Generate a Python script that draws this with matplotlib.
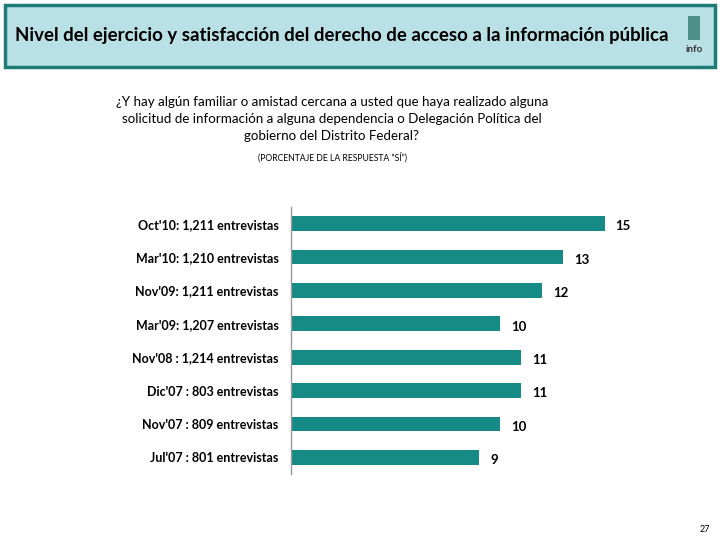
import matplotlib
matplotlib.use("Agg")
import matplotlib.pyplot as plt
from matplotlib.patches import Rectangle

categories = ["Oct'10: 1,211 entrevistas", "Mar'10: 1,210 entrevistas",
              "Nov'09: 1,211 entrevistas", "Mar'09: 1,207 entrevistas",
              "Nov'08 : 1,214 entrevistas", "Dic'07 : 803 entrevistas",
              "Nov'07 : 809 entrevistas", "Jul'07 : 801 entrevistas"]
values = [15, 13, 12, 10, 11, 11, 10, 9]

plt.rcParams['font.family'] = ['Lato', 'DejaVu Sans']
fig = plt.figure(figsize=(7.2, 5.4), dpi=100)

# header box
fig.patches.append(Rectangle((5/720, 1-67/540), 710/720, 62/540, transform=fig.transFigure,
                             facecolor='#b9e0e4', edgecolor='#1d7b78', linewidth=2.5))
fig.text(15/720, 1-36/540, "Nivel del ejercicio y satisfacción del derecho de acceso a la información pública",
         fontsize=13.4, fontweight='bold', ha='left', va='center', color='black')
fig.patches.append(Rectangle((688/720, 1-40/540), 12/720, 24/540, transform=fig.transFigure,
                             facecolor='#4f8f8a', edgecolor='none'))
fig.text(694/720, 1-50/540, "info", fontsize=7, fontweight='bold', ha='center', va='center', color='#333333')

fig.text(332/720, 1-119/540,
         "¿Y hay algún familiar o amistad cercana a usted que haya realizado alguna\n"
         "solicitud de información a alguna dependencia o Delegación Política del\n"
         "gobierno del Distrito Federal?",
         fontsize=9.6, ha='center', va='center', linespacing=1.45)
fig.text(332/720, 1-157/540, "(PORCENTAJE DE LA RESPUESTA \u201cSÍ\u201d)", fontsize=6.2,
         ha='center', va='center')
fig.text(705/720, 1-529/540, "27", fontsize=6.5, ha='center', va='center')

ax = fig.add_axes([291/720, 1-474/540, 340/720, 267/540])
y = list(range(len(values)))[::-1]
ax.barh(y, values, height=0.44, color='#168a84')
ax.set_xlim(0, 340/20.9)
ax.set_ylim(-0.5, len(values)-0.5)
ax.set_yticks(y)
ax.set_yticklabels(categories, fontsize=9, fontweight='bold')
ax.tick_params(axis='y', length=0, pad=9)
ax.set_xticks([])
for s in ['top', 'right', 'bottom']:
    ax.spines[s].set_visible(False)
ax.spines['left'].set_color('#999999')
ax.spines['left'].set_linewidth(1)
for yi, v in zip(y, values):
    ax.annotate(str(v), (v, yi), xytext=(8, -2), textcoords='offset points',
                ha='left', va='center', fontsize=9.5, fontweight='bold')

fig.savefig("out.png", dpi=100)
